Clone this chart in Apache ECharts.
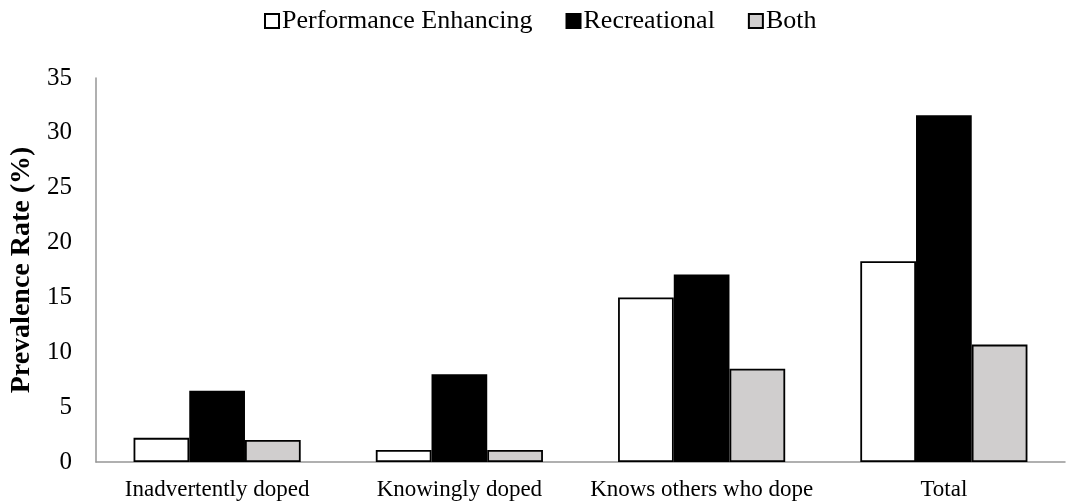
<!DOCTYPE html>
<html><head><meta charset="utf-8">
<script src="https://cdn.jsdelivr.net/npm/echarts@6/dist/echarts.min.js"></script>
<style>html,body{margin:0;padding:0;background:#fff;}#c{width:1081px;height:503px;}</style>
</head><body><div id="c"></div>
<script>
var categories = ['Inadvertently doped', 'Knowingly doped', 'Knows others who dope', 'Total'];
var seriesNames = ['Performance Enhancing', 'Recreational', 'Both'];
var performance = [2.2, 1.1, 15.0, 18.3];
var recreational = [6.5, 8.0, 17.1, 31.6];
var both = [2.0, 1.1, 8.5, 10.7];
var yTicks = [0, 5, 10, 15, 20, 25, 30, 35];

var font = 'Liberation Serif, Times New Roman, serif';
var colors = ['#ffffff', '#000000', '#d0cece'];
var data = [performance, recreational, both];
var chart = echarts.init(document.getElementById('c'));
chart.setOption({
  animation: false,
  textStyle: {fontFamily: font},
  legend: {
    top: 3, left: 259, itemWidth: 14, itemHeight: 14, itemGap: 33,
    icon: 'rect',
    textStyle: {fontFamily: font, fontSize: 26, color: '#000', padding: [0, 0, 0, -2]},
    data: seriesNames
  },
  grid: {left: 96, right: 16, top: 78, bottom: 41},
  xAxis: {
    type: 'category', data: categories,
    axisLine: {lineStyle: {color: '#969696', width: 1.5}},
    axisTick: {show: false},
    axisLabel: {fontFamily: font, fontSize: 23, color: '#000', margin: 16, interval: 0}
  },
  yAxis: {
    type: 'value', min: 0, max: 35, interval: 5,
    name: 'Prevalence Rate (%)', nameLocation: 'middle', nameGap: 51,
    nameTextStyle: {fontFamily: font, fontSize: 28, fontWeight: 'bold', color: '#000'},
    axisLine: {show: true, lineStyle: {color: '#969696', width: 1.5}},
    axisTick: {show: false},
    splitLine: {show: false},
    axisLabel: {fontFamily: font, fontSize: 25, color: '#000', margin: 24,
      formatter: function (v) { return yTicks.indexOf(v) >= 0 ? String(v) : ''; }}
  },
  series: seriesNames.map(function (n, i) {
    return {
      name: n, type: 'bar', data: data[i], barGap: '0%', barCategoryGap: '31%',
      itemStyle: {color: colors[i], borderColor: '#000', borderWidth: 1.8}
    };
  })
});
</script></body></html>
